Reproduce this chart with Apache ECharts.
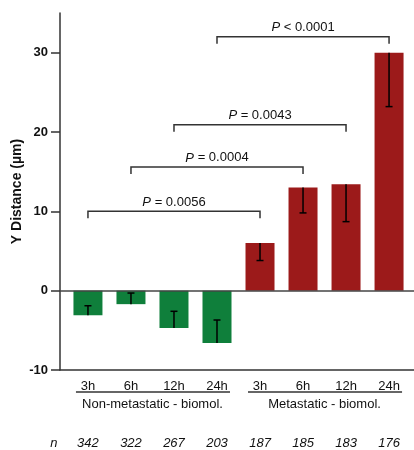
<!DOCTYPE html>
<html><head><meta charset="utf-8">
<script src="https://cdn.jsdelivr.net/npm/echarts@6/dist/echarts.min.js"></script>
<style>html,body{margin:0;padding:0;background:#fff}#c{width:414px;height:450px}</style>
</head><body><div id="c"></div>
<script>
const categories = ['3h','6h','12h','24h','3h','6h','12h','24h'];
const groupNames = ['Non-metastatic - biomol.','Metastatic - biomol.'];
const groupOfBar = [0,0,0,0,1,1,1,1];
const means = [-3.1,-1.7,-4.7,-6.6,6.0,13.0,13.4,30.0];
const sems = [1.2,1.4,2.1,2.9,2.2,3.2,4.7,6.8];
const counts = [342,322,267,203,187,185,183,176];
const bracketFrom = [0,1,2,3];
const bracketTo = [4,5,6,7];
const bracketLevel = [10,15.6,20.9,32.0];
const bracketP = ['= 0.0056','= 0.0004','= 0.0043','< 0.0001'];
const yTicks = [-10,0,10,20,30];

const FONT = "'Liberation Sans', Arial, sans-serif";
const groupColors = ['#0f7f3b','#9c1a1a'];
const AX = '#333';

const chart = echarts.init(document.getElementById('c'), null, {renderer:'canvas'});

const groupRanges = groupNames.map((g, gi) => {
  const idx = groupOfBar.map((v,i)=>v===gi?i:-1).filter(i=>i>=0);
  return [idx[0], idx[idx.length-1], -10, gi];
});

chart.setOption({
  animation: false,
  backgroundColor: '#fff',
  grid: {left: 60, right: 0, top: 13, bottom: 80, containLabel: false, outerBoundsMode: 'none'},
  xAxis: {
    type: 'value', min: -0.65, max: 7.58,
    splitLine: {show: false},
    axisLine: {show: true, onZero: false, lineStyle: {color: AX, width: 1.5}},
    axisTick: {show: false},
    axisLabel: {
      customValues: categories.map((c,i)=>i),
      formatter: v => categories[Math.round(v)] || '',
      fontFamily: FONT, fontSize: 13, color: '#111', margin: 10
    }
  },
  yAxis: {
    type: 'value', min: -10, max: 35,
    splitLine: {show: false},
    axisLine: {show: true, onZero: false, lineStyle: {color: AX, width: 1.5}},
    axisTick: {show: true, length: 9, customValues: yTicks, lineStyle: {color: AX, width: 1.5}},
    axisLabel: {customValues: yTicks, fontFamily: FONT, fontSize: 13, fontWeight: 'bold', color: '#111', margin: 12},
    name: 'Y Distance (µm)', nameLocation: 'middle', nameGap: 36, nameMoveOverlap: false,
    nameTextStyle: {fontFamily: FONT, fontSize: 14, fontWeight: 'bold', color: '#111'}
  },
  series: [
    {
      type: 'bar', barWidth: 29,
      data: means.map((m,i)=>[i,m]),
      itemStyle: {color: p => groupColors[groupOfBar[p.dataIndex]]},
      markLine: {
        silent: true, symbol: ['none','none'], label: {show: false},
        lineStyle: {color: '#444', width: 1.5, type: 'solid'},
        data: [{yAxis: 0}]
      },
      z: 2
    },
    {
      type: 'custom', clip: false, z: 5,
      data: means.map((m,i)=>[i, m, m - Math.sign(m)*sems[i]]),
      encode: {x: 0, y: [1,2]},
      renderItem: (params, api) => {
        const p1 = api.coord([api.value(0), api.value(1)]);
        const p2 = api.coord([api.value(0), api.value(2)]);
        const st = {stroke: '#000', lineWidth: 1.5};
        return {type: 'group', children: [
          {type: 'line', shape: {x1: p1[0], y1: p1[1], x2: p2[0], y2: p2[1]}, style: st},
          {type: 'line', shape: {x1: p2[0]-3.5, y1: p2[1], x2: p2[0]+3.5, y2: p2[1]}, style: st}
        ]};
      }
    },
    {
      type: 'custom', clip: false, z: 5,
      data: bracketFrom.map((f,k)=>[f, bracketTo[k], bracketLevel[k], k]),
      encode: {x: [0,1], y: 2},
      renderItem: (params, api) => {
        const k = api.value(3);
        const a = api.coord([api.value(0), api.value(2)]);
        const b = api.coord([api.value(1), api.value(2)]);
        return {type: 'group', children: [
          {type: 'polyline', shape: {points: [[a[0], a[1]+7],[a[0], a[1]],[b[0], b[1]],[b[0], b[1]+7]]},
           style: {stroke: AX, lineWidth: 1.5, fill: 'none'}},
          {type: 'text', style: {x: (a[0]+b[0])/2, y: a[1]-9, text: '{i|P} ' + bracketP[k],
            fontFamily: FONT, fontSize: 13, fill: '#111', align: 'center', verticalAlign: 'middle',
            rich: {i: {fontStyle: 'italic', fontFamily: FONT, fontSize: 13, fill: '#111'}}}}
        ]};
      }
    },
    {
      type: 'custom', clip: false, z: 5,
      data: groupRanges,
      encode: {x: [0,1], y: 2},
      renderItem: (params, api) => {
        const a = api.coord([api.value(0), api.value(2)]);
        const b = api.coord([api.value(1), api.value(2)]);
        const y = a[1] + 22;
        return {type: 'group', children: [
          {type: 'line', shape: {x1: a[0]-12, y1: y, x2: b[0]+13, y2: y}, style: {stroke: AX, lineWidth: 1.5}},
          {type: 'text', style: {x: (a[0]+b[0])/2, y: y+12, text: groupNames[api.value(3)],
            fontFamily: FONT, fontSize: 13, fill: '#111', align: 'center', verticalAlign: 'middle'}}
        ]};
      }
    },
    {
      type: 'custom', clip: false, z: 5,
      data: counts.map((c,i)=>[i, -10, c]),
      encode: {x: 0, y: 1},
      renderItem: (params, api) => {
        const p = api.coord([api.value(0), api.value(1)]);
        const y = p[1] + 73;
        const children = [{type: 'text', style: {x: p[0], y: y, text: String(api.value(2)),
          fontFamily: FONT, fontSize: 13, fontStyle: 'italic', fill: '#111', align: 'center', verticalAlign: 'middle'}}];
        if (params.dataIndex === 0) {
          children.push({type: 'text', style: {x: p[0]-34, y: y, text: 'n',
            fontFamily: FONT, fontSize: 13, fontStyle: 'italic', fill: '#111', align: 'center', verticalAlign: 'middle'}});
        }
        return {type: 'group', children};
      }
    }
  ]
});
</script></body></html>
